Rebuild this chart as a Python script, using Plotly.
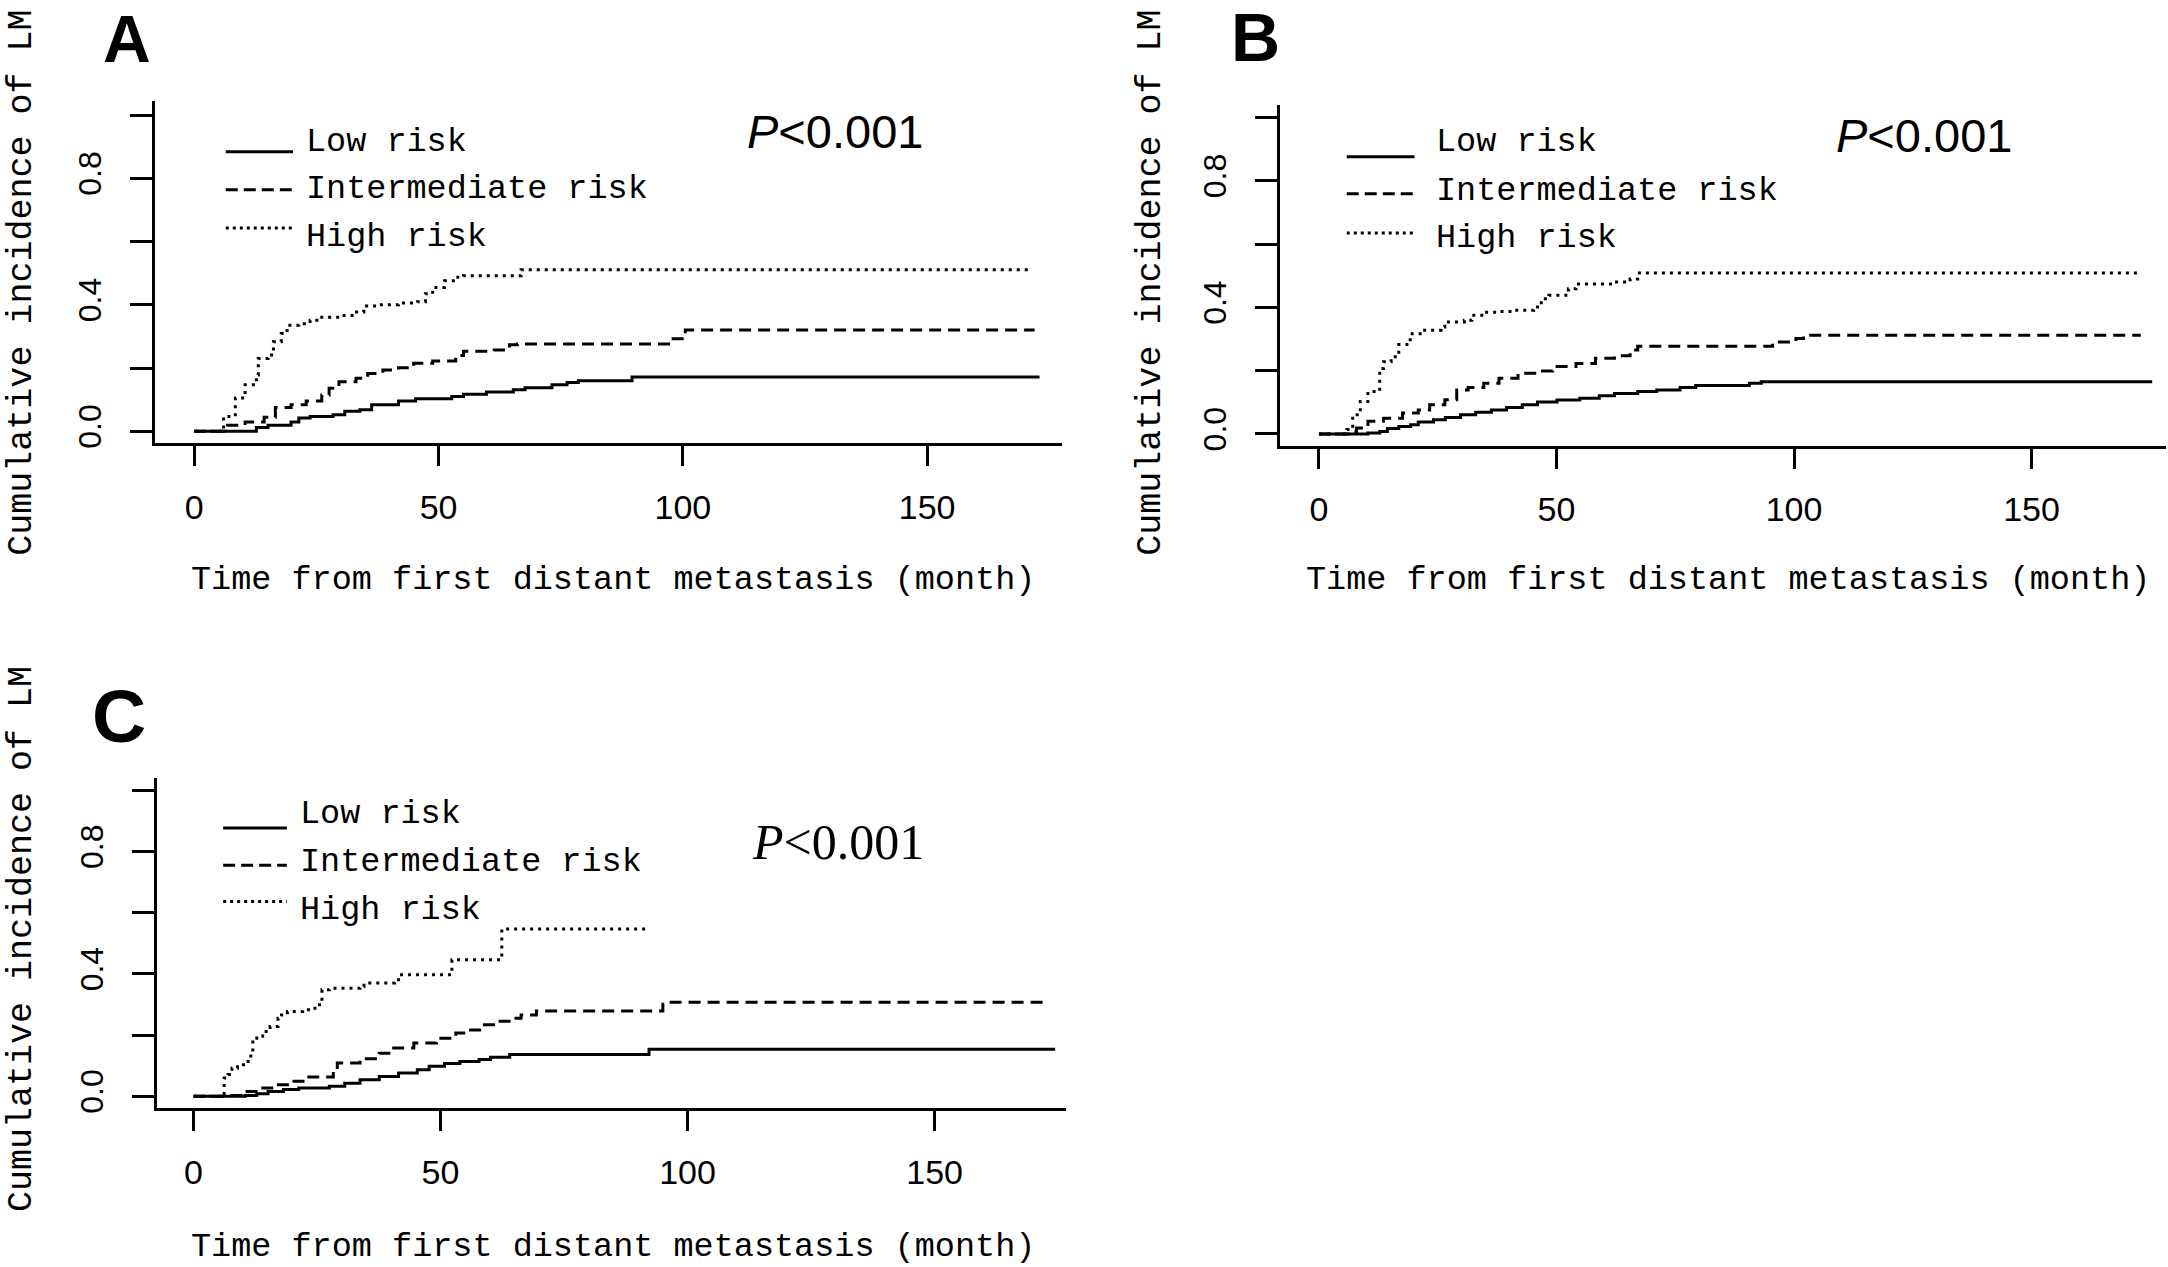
import plotly.graph_objects as go

W, H = 2168, 1267

# ---- data (months, cumulative incidence) ----
a_low_t = [0, 12.7, 15.1, 19.8, 21.4, 23.7, 28.4, 30.8, 33.9, 36.3, 41.8, 45.3, 52.7, 55.1, 59.8, 65.3, 67.7, 73.2, 76.3, 78.6, 89.6, 173]
a_low_v = [0, 0.012, 0.019, 0.029, 0.042, 0.047, 0.052, 0.063, 0.068, 0.084, 0.096, 0.103, 0.110, 0.117, 0.124, 0.131, 0.138, 0.147, 0.154, 0.160, 0.172, 0.172]
a_int_t = [0, 6.8, 10.4, 14.3, 16.6, 19.8, 22.9, 26.1, 27.6, 29.6, 33.1, 35.5, 38.6, 41.8, 44.9, 48.8, 53.5, 55.1, 61.4, 64.5, 66.1, 97.5, 100.5, 172]
a_int_v = [0, 0.019, 0.029, 0.044, 0.075, 0.084, 0.096, 0.115, 0.136, 0.157, 0.168, 0.183, 0.194, 0.201, 0.215, 0.222, 0.240, 0.253, 0.257, 0.274, 0.276, 0.293, 0.320, 0.320]
a_high_t = [0, 6.0, 8.4, 10.4, 12.7, 13.1, 15.1, 16.2, 17.8, 19.0, 21.4, 23.7, 26.1, 30.0, 32.3, 34.7, 37.8, 41.8, 45.7, 47.3, 48.8, 51.2, 53.5, 55.1, 66.9, 171.5]
a_high_v = [0, 0.047, 0.105, 0.147, 0.178, 0.230, 0.241, 0.283, 0.309, 0.335, 0.340, 0.351, 0.361, 0.366, 0.377, 0.396, 0.400, 0.406, 0.410, 0.435, 0.455, 0.476, 0.487, 0.492, 0.511, 0.511]

b_low_t = [0, 10.3, 12.8, 14.4, 16.8, 19.3, 20.9, 24.1, 26.6, 29.8, 33.0, 36.3, 39.5, 42.8, 46.0, 50.1, 54.9, 59.0, 62.2, 67.1, 71.1, 76.0, 79.3, 90.6, 93.1, 175.4]
b_low_v = [0, 0.003, 0.008, 0.017, 0.024, 0.029, 0.038, 0.045, 0.052, 0.061, 0.069, 0.076, 0.084, 0.092, 0.101, 0.107, 0.113, 0.121, 0.128, 0.134, 0.139, 0.147, 0.153, 0.160, 0.165, 0.165]
b_int_t = [0, 6.9, 7.9, 10.3, 13.6, 17.6, 20.9, 23.3, 26.5, 29.0, 31.4, 34.7, 37.9, 41.9, 46.0, 49.2, 54.1, 58.2, 62.2, 65.5, 67.1, 95.5, 100.4, 102.0, 173]
b_int_v = [0, 0.008, 0.019, 0.040, 0.050, 0.066, 0.076, 0.092, 0.108, 0.139, 0.147, 0.160, 0.176, 0.192, 0.199, 0.213, 0.223, 0.239, 0.247, 0.265, 0.277, 0.291, 0.302, 0.312, 0.312]
b_high_t = [0, 5.9, 7.1, 8.7, 10.3, 12.8, 13.6, 15.2, 16.8, 19.2, 21.7, 25.7, 26.5, 30.6, 32.2, 34.7, 37.9, 41.2, 45.2, 46.8, 48.4, 52.5, 54.1, 62.2, 65.5, 67.1, 172.6]
b_high_v = [0, 0.014, 0.061, 0.103, 0.134, 0.207, 0.228, 0.244, 0.283, 0.317, 0.328, 0.338, 0.354, 0.359, 0.375, 0.385, 0.387, 0.391, 0.401, 0.427, 0.438, 0.459, 0.474, 0.480, 0.490, 0.509, 0.509]

c_low_t = [0, 10.5, 12.8, 15.1, 18.2, 21.3, 27.5, 30.6, 33.7, 37.6, 41.5, 45.3, 47.7, 50.8, 53.9, 57.8, 60.1, 64.0, 92.2, 174.4]
c_low_v = [0, 0.003, 0.008, 0.016, 0.022, 0.027, 0.033, 0.043, 0.054, 0.065, 0.076, 0.087, 0.098, 0.107, 0.114, 0.120, 0.128, 0.137, 0.154, 0.154]
c_int_t = [0, 6.6, 10.5, 13.6, 16.7, 19.8, 22.9, 28.3, 29.1, 33.7, 37.6, 39.9, 44.6, 49.2, 53.1, 55.4, 58.5, 61.6, 64.7, 66.3, 69.4, 95.0, 173]
c_int_v = [0, 0.003, 0.016, 0.027, 0.038, 0.049, 0.063, 0.082, 0.109, 0.123, 0.141, 0.158, 0.174, 0.190, 0.207, 0.217, 0.234, 0.245, 0.255, 0.266, 0.279, 0.307, 0.307]
c_high_t = [0, 6.2, 7.0, 7.8, 8.9, 10.5, 11.6, 12.0, 12.8, 14.0, 15.5, 17.1, 17.8, 19.0, 22.1, 23.6, 25.2, 26.0, 27.5, 33.7, 34.5, 40.7, 41.5, 52.3, 62.4, 92.0]
c_high_v = [0, 0.060, 0.071, 0.092, 0.103, 0.114, 0.141, 0.190, 0.196, 0.212, 0.228, 0.255, 0.266, 0.277, 0.283, 0.288, 0.299, 0.348, 0.353, 0.359, 0.370, 0.375, 0.397, 0.446, 0.547, 0.547]

groups = ["Low risk", "Intermediate risk", "High risk"]
x_ticks = [0, 50, 100, 150]
y_ticks = [0, 0.2, 0.4, 0.6, 0.8, 1.0]
y_tick_text = ["0.0", "", "0.4", "", "0.8", ""]
x_title = "Time from first distant metastasis (month)"
y_title = "Cumulative incidence of LM"
p_text = "<i>P</i>&lt;0.001"

curves = {
    "A": [(a_low_t, a_low_v), (a_int_t, a_int_v), (a_high_t, a_high_v)],
    "B": [(b_low_t, b_low_v), (b_int_t, b_int_v), (b_high_t, b_high_v)],
    "C": [(c_low_t, c_low_v), (c_int_t, c_int_v), (c_high_t, c_high_v)],
}

# ---- layout (pixel boxes of each panel) ----
panels = {
    "A": dict(ax="", box=(155.2, 1062, 101.7, 445.4), xr=[-8.0, 177.6], yr=[-0.038, 1.044],
              leg_x=(6.45, 20.2, 22.5), leg_y=[0.884, 0.764, 0.643], txt_y=[0.916, 0.766, 0.614],
              letter=(126.7, 0, 66), p=(834.5, 132), p_font=("Liberation Sans", 47),
              xt=(613, 583), yt=(22, 284)),
    "B": dict(ax="2", box=(1280, 2166, 106, 447.8), xr=[-8.2, 178.3], yr=[-0.037, 1.038],
              leg_x=(5.85, 20.1, 24.2), leg_y=[0.876, 0.759, 0.635], txt_y=[0.923, 0.768, 0.618],
              letter=(1255, 37, 68), p=(1924, 136), p_font=("Liberation Sans", 47),
              xt=(1728, 583), yt=(1151, 284)),
    "C": dict(ax="3", box=(157.2, 1065.5, 781.8, 1113.2), xr=[-7.35, 176.5], yr=[-0.038, 1.040],
              leg_x=(6.0, 18.9, 21.1), leg_y=[0.877, 0.755, 0.637], txt_y=[0.923, 0.767, 0.609],
              letter=(119, 719, 75), p=(838, 846), p_font=("Liberation Serif", 50),
              xt=(613, 1253), yt=(22, 943.5)),
}

dashes = ["solid", "12px,7px", "3px,5px"]
leg_dashes = ["solid", "12px,6px", "3px,4px"]
MONO = "Liberation Mono"
SANS = "Liberation Sans"

fig = go.Figure()
annotations = []
shapes = []
layout_axes = {}

for name, p in panels.items():
    ax = p["ax"]
    x0, x1, y0, y1 = p["box"]
    for (t, v), dash in zip(curves[name], dashes):
        fig.add_trace(go.Scatter(
            x=t, y=v, mode="lines", xaxis="x" + ax, yaxis="y" + ax, showlegend=False,
            line=dict(color="black", width=3, shape="hv", dash=dash), hoverinfo="skip"))

    layout_axes["xaxis" + ax] = dict(
        domain=[x0 / W, x1 / W], range=p["xr"], anchor="y" + ax,
        tickvals=x_ticks, ticks="outside", ticklen=20, tickwidth=3, tickcolor="black",
        showline=True, linewidth=3, linecolor="black", showgrid=False, zeroline=False,
        tickfont=dict(family=SANS, size=34, color="black"), ticklabelstandoff=12)
    layout_axes["yaxis" + ax] = dict(
        domain=[1 - y1 / H, 1 - y0 / H], range=p["yr"], anchor="x" + ax,
        tickvals=y_ticks, ticktext=y_tick_text, tickangle=-90,
        ticks="outside", ticklen=22, tickwidth=3, tickcolor="black",
        showline=True, linewidth=3, linecolor="black", showgrid=False, zeroline=False,
        tickfont=dict(family=SANS, size=32, color="black"), ticklabelstandoff=16)

    lx0, lx1, tx = p["leg_x"]
    for label, ly, ty, dash in zip(groups, p["leg_y"], p["txt_y"], leg_dashes):
        shapes.append(dict(type="line", xref="x" + ax, yref="y" + ax, x0=lx0, x1=lx1, y0=ly, y1=ly,
                           line=dict(color="black", width=3, dash=dash)))
        annotations.append(dict(xref="x" + ax, yref="y" + ax, x=tx, y=ty, text=label,
                                showarrow=False, xanchor="left", yanchor="middle",
                                font=dict(family=MONO, size=33.5, color="black")))

    lx, ly, lsize = p["letter"]
    # panel A's letter sits at the very top edge, so anchor it by its top
    annotations.append(dict(xref="paper", yref="paper", x=lx / W, y=1 - ly / H, text="<b>" + name + "</b>",
                            showarrow=False, xanchor="center", yanchor="top" if ly == 0 else "middle",
                            font=dict(family=SANS, size=lsize, color="black")))
    px_, py_ = p["p"]
    annotations.append(dict(xref="paper", yref="paper", x=px_ / W, y=1 - py_ / H, text=p_text,
                            showarrow=False, xanchor="center", yanchor="middle",
                            font=dict(family=p["p_font"][0], size=p["p_font"][1], color="black")))
    xtx, xty = p["xt"]
    annotations.append(dict(xref="paper", yref="paper", x=xtx / W, y=1 - xty / H, text=x_title,
                            showarrow=False, xanchor="center", yanchor="middle",
                            font=dict(family=MONO, size=33.5, color="black")))
    ytx, yty = p["yt"]
    annotations.append(dict(xref="paper", yref="paper", x=ytx / W, y=1 - yty / H, text=y_title,
                            showarrow=False, xanchor="center", yanchor="middle", textangle=-90,
                            font=dict(family=MONO, size=35, color="black")))

fig.update_layout(
    width=W, height=H, margin=dict(l=0, r=0, t=0, b=0),
    paper_bgcolor="white", plot_bgcolor="white",
    annotations=annotations, shapes=shapes, **layout_axes)

# the page's default body margin would push the figure 8px right and down
fig.write_html("out.html", config={"displayModeBar": False},
               post_script="document.body.style.margin='0px';")
